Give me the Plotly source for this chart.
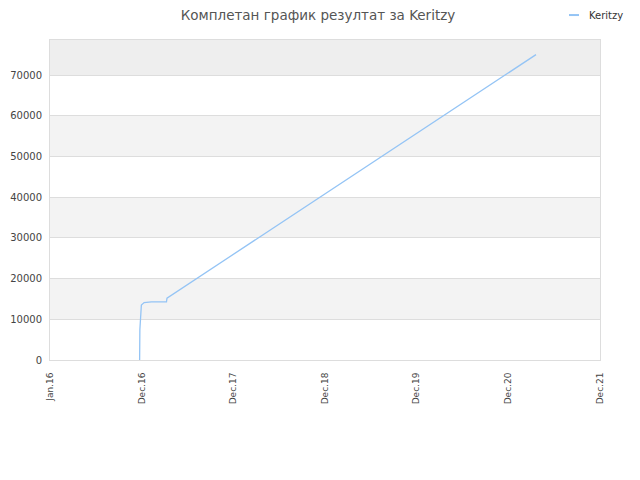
import plotly.graph_objects as go

# progress of the score over time
dates = [
    "2016-12-23", "2016-12-24", "2016-12-30", "2017-01-10",
    "2017-02-08", "2017-04-09", "2017-04-11", "2021-04-20",
]
scores = [0, 7500, 13500, 14100, 14300, 14300, 15200, 75000]
series_name = "Keritzy"

tick_dates = ["2016-01-01", "2016-12-31", "2017-12-31", "2018-12-31",
              "2019-12-31", "2020-12-31", "2021-12-31"]
tick_labels = ["Jan.16", "Dec.16", "Dec.17", "Dec.18", "Dec.19", "Dec.20", "Dec.21"]

y_ticks = [0, 10000, 20000, 30000, 40000, 50000, 60000, 70000]
y_top = 78600

font = "DejaVu Sans, Verdana, sans-serif"
line_color = "#94c4f5"

fig = go.Figure()
fig.add_trace(go.Scatter(
    x=dates, y=scores, mode="lines", name=series_name,
    line=dict(color=line_color, width=1.3),
))

# alternating background bands
shapes = []
for i, lo in enumerate(y_ticks):
    hi = y_ticks[i + 1] if i + 1 < len(y_ticks) else y_top
    if i == len(y_ticks) - 1:
        color = "#eeeeee"
    elif i % 2 == 1:
        color = "#f3f3f3"
    else:
        continue
    shapes.append(dict(type="rect", xref="paper", yref="y", x0=0, x1=1,
                       y0=lo, y1=hi, fillcolor=color, line_width=0, layer="below"))

# small legend in the top right corner (short line + name), kept out of the margins
shapes.append(dict(type="line", xref="paper", yref="paper", x0=0.9436, x1=0.9618,
                   y0=1.078, y1=1.078, line=dict(color=line_color, width=2)))
annotations = [dict(text=series_name, xref="paper", yref="paper", x=0.9764, y=1.078,
                    xanchor="left", yanchor="middle", showarrow=False,
                    font=dict(size=10, color="#333"))]

# the page puts the figure 8px in from the corner, margins allow for that
fig.update_layout(
    width=640, height=480,
    margin=dict(l=42, r=48, t=32, b=128),
    paper_bgcolor="white", plot_bgcolor="white",
    font=dict(family=font, size=10, color="#444"),
    title=dict(text="Комплетан график резултат за Keritzy", x=310 / 640, xanchor="center",
               y=1 - 7 / 480, yanchor="middle", font=dict(size=13.5, color="#555")),
    shapes=shapes,
    annotations=annotations,
    showlegend=False,
)
fig.update_xaxes(
    type="date", range=["2016-01-01", "2021-12-31"],
    tickvals=tick_dates, ticktext=tick_labels, tickangle=-90,
    showgrid=False, showline=True, linecolor="#dddddd", mirror=True,
    zeroline=False, ticks="", tickfont=dict(size=9, color="#444"),
    automargin=False, ticklabelstandoff=8,
)
fig.update_yaxes(
    range=[0, y_top], tickvals=y_ticks, tickformat="d", showgrid=True, gridcolor="#dddddd",
    showline=True, linecolor="#dddddd", mirror=True, zeroline=False,
    ticks="", tickfont=dict(size=10, color="#444"),
    automargin=False, ticklabelstandoff=5,
)

fig.write_html("out.html")
